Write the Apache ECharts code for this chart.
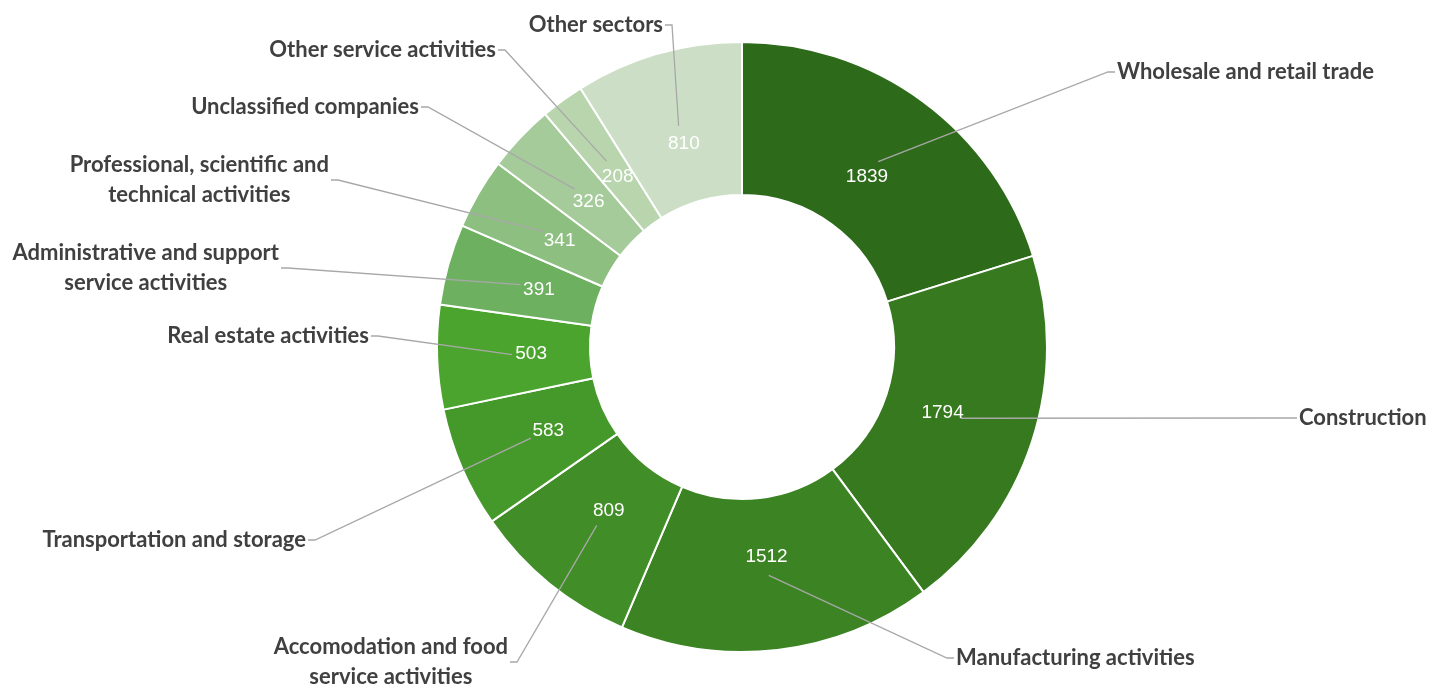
<!DOCTYPE html>
<html>
<head>
<meta charset="utf-8">
<script src="https://cdn.jsdelivr.net/npm/echarts@6/dist/echarts.min.js"></script>
<style>
html,body{margin:0;padding:0;background:#ffffff;}
#chart{width:1433px;height:686px;}
</style>
</head>
<body>
<div id="chart"></div>
<script>
// ---- data ----
const categories = [
  'Wholesale and retail trade',
  'Construction',
  'Manufacturing activities',
  'Accomodation and food service activities',
  'Transportation and storage',
  'Real estate activities',
  'Administrative and support service activities',
  'Professional, scientific and technical activities',
  'Unclassified companies',
  'Other service activities',
  'Other sectors'
];
const values = [1839, 1794, 1512, 809, 583, 503, 391, 341, 326, 208, 810];
const labelText = [
  'Wholesale and retail trade',
  'Construction',
  'Manufacturing activities',
  'Accomodation and food\nservice activities',
  'Transportation and storage',
  'Real estate activities',
  'Administrative and support\nservice activities',
  'Professional, scientific and\ntechnical activities',
  'Unclassified companies',
  'Other service activities',
  'Other sectors'
];

// ---- styles / layout ----
const colors = ['#2D6B1B', '#37791E', '#3C8423', '#418D27', '#45982A', '#4BA42D',
                '#6DB060', '#8DBF80', '#A6CB9A', '#B8D5AE', '#CCDFC6'];
const CX = 742, CY = 347;
// label anchor (edge of label nearest the leader line) as offset from pie centre,
// third entry: +1 label extends to the right, -1 to the left
const labelAnchors = [
  [375, -275, 1],
  [557, 71, 1],
  [214, 311, 1],
  [-234, 315, -1],
  [-436, 193, -1],
  [-373, -11, -1],
  [-463, -79, -1],
  [-413, -167, -1],
  [-323, -240, -1],
  [-246, -297, -1],
  [-79, -322, -1]
];

const total = values.reduce((a, b) => a + b, 0);
function midPoint(i, r) {
  let cum = 0;
  for (let k = 0; k < i; k++) cum += values[k];
  const t = (cum + values[i] / 2) / total * Math.PI * 2;
  return [CX + r * Math.sin(t), CY - r * Math.cos(t)];
}

const chart = echarts.init(document.getElementById('chart'), null, {renderer: 'canvas'});

const mainData = categories.map((n, i) => ({name: n, value: values[i], itemStyle: {color: colors[i]}}));
const ghostData = categories.map((n, i) => ({name: n, value: values[i]}));

chart.setOption({
  animation: false,
  backgroundColor: '#ffffff',
  series: [
    {
      type: 'pie',
      center: [CX, CY],
      radius: [152, 305],
      startAngle: 90,
      clockwise: true,
      silent: true,
      avoidLabelOverlap: false,
      label: {show: false},
      labelLine: {show: false},
      itemStyle: {borderColor: '#ffffff', borderWidth: 2},
      data: mainData,
      z: 1
    },
    {
      type: 'pie',
      center: [CX, CY],
      radius: [0, 230],
      startAngle: 90,
      clockwise: true,
      silent: true,
      avoidLabelOverlap: false,
      itemStyle: {color: 'transparent', borderWidth: 0},
      label: {
        show: true,
        position: 'outside',
        formatter: p => labelText[p.dataIndex],
        color: '#404040',
        fontFamily: 'Lato',
        fontWeight: 'bold',
        fontSize: 22,
        lineHeight: 30,
        align: 'center'
      },
      labelLine: {
        show: true,
        length: 10,
        length2: 10,
        lineStyle: {color: '#A8A8A8', width: 1.3}
      },
      labelLayout: function (params) {
        const i = params.dataIndex;
        const a = labelAnchors[i];
        const w = params.labelRect.width;
        const ex = CX + a[0], ey = CY + a[1];
        const side = a[2];
        const start = (params.labelLinePoints && params.labelLinePoints[0]) || midPoint(i, 230);
        return {
          x: ex + side * w / 2,
          y: ey,
          align: 'center',
          verticalAlign: 'middle',
          labelLinePoints: [start, [ex - side * 9, ey], [ex - side * 2, ey]]
        };
      },
      data: ghostData,
      z: 2
    },
    {
      type: 'pie',
      center: [CX, CY],
      radius: [152, 264],
      startAngle: 90,
      clockwise: true,
      silent: true,
      avoidLabelOverlap: false,
      itemStyle: {color: 'transparent', borderWidth: 0},
      label: {
        show: true,
        position: 'inside',
        formatter: '{c}',
        color: '#ffffff',
        fontFamily: 'Liberation Sans',
        fontSize: 19
      },
      labelLine: {show: false},
      data: ghostData,
      z: 3
    }
  ]
});
</script>
</body>
</html>
